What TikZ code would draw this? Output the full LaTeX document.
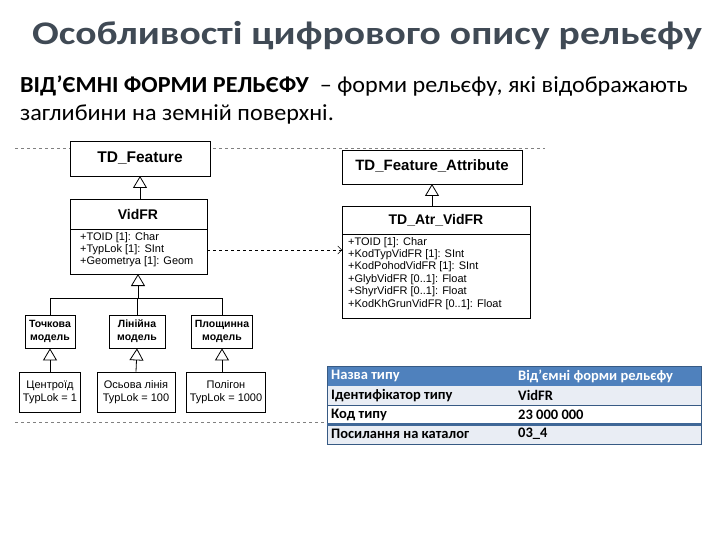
\documentclass[tikz,border=0pt]{standalone}
\usepackage{fontspec}
\setmainfont{Carlito}
\newfontfamily\arial{Liberation Sans}
\usetikzlibrary{arrows.meta}
\definecolor{titlec}{HTML}{404A55}
\definecolor{tblue}{HTML}{4F81BD}
\definecolor{tlight}{HTML}{E9EDF4}
\begin{document}
\begin{tikzpicture}[x=1pt,y=-1pt,
  cls/.style={draw,thick,fill=white},
  gen/.style={-{Triangle[open,length=12pt,width=14pt]},thick},
  attr/.style={font=\arial\fontsize{11}{12.4}\selectfont,align=left,anchor=north west,inner sep=0pt},
  small/.style={font=\arial\bfseries\fontsize{10.5}{13}\selectfont,align=center},
  trow/.style={anchor=west,inner sep=0pt,font=\bfseries\fontsize{14.5}{16}\selectfont}]
\useasboundingbox (0,0) rectangle (720,540);
\node[font=\bfseries\fontsize{33}{36}\selectfont,text=titlec] (title) at (367,36) {\scalebox{1.2}[1]{Особливості цифрового опису рельєфу}};
\node[anchor=west,inner sep=0pt,font=\fontsize{23}{26}\selectfont] (sub1) at (20,86) {\scalebox{1.05}[1]{\textbf{ВІД’ЄМНІ ФОРМИ РЕЛЬЄФУ} \ – форми рельєфу, які відображають}};
\node[anchor=west,inner sep=0pt,font=\fontsize{23}{26}\selectfont] (sub2) at (20,114) {\scalebox{1.05}[1]{заглибини на земній поверхні.}};
\draw[gray,dashed] (15,148) -- (545,148);
\draw[gray,dashed] (15,422) -- (330,422);
% TD_Feature
\draw[cls] (70,141) rectangle (210,176);
\node[font=\arial\bfseries\fontsize{15.5}{18}\selectfont] (tdf) at (140,158) {TD\_Feature};
\coordinate (tdfb) at (140,176);
% VidFR
\draw[cls] (70,199) rectangle (207,274);
\draw[thick] (70,229) -- (207,229);
\node[font=\arial\bfseries\fontsize{14}{16}\selectfont] (vid) at (138,214) {VidFR};
\node[attr] (vida) at (80,232) {+TOID [1]: Char\\+TypLok [1]: SInt\\+Geometrya [1]: Geom};
\coordinate (vidt) at (140,199);
\draw[gen] (vidt) -- (tdfb);
\coordinate (vidb) at (138,274);
\coordinate (hub) at (138,298);
\draw[gen] (hub) -- (vidb);
\draw[thick] (50,298) -- (222,298);
% middle boxes
\node[draw,thick,minimum width=50pt,minimum height=33pt,small] (m1) at (50,331.5) {Точкова\\модель};
\node[draw,thick,minimum width=56pt,minimum height=33pt,small] (m2) at (137,331.5) {Лінійна\\модель};
\node[draw,thick,minimum width=56pt,minimum height=33pt,small] (m3) at (222,331.5) {Площинна\\модель};
\draw[thick] (50,298) -- (m1.north);
\draw[thick] (137,298) -- (m2.north);
\draw[thick] (222,298) -- (m3.north);
% bottom boxes
\node[draw,thick,minimum width=60pt,minimum height=40pt,small,font=\arial\fontsize{11}{13}\selectfont] (b1) at (50,392) {Центроїд\\TypLok = 1};
\node[draw,thick,minimum width=78pt,minimum height=40pt,small,font=\arial\fontsize{11}{13}\selectfont] (b2) at (136,392) {Осьова лінія\\TypLok = 100};
\node[draw,thick,minimum width=77pt,minimum height=40pt,small,font=\arial\fontsize{11}{13}\selectfont] (b3) at (226,392) {Полігон\\TypLok = 1000};
\draw[gen] (b1.north) -- (m1.south);
\draw[gen] (b2.north) -- (m2.south);
\draw[gen] (b3.north -| m3.south) -- (m3.south);
% TD_Feature_Attribute
\draw[cls] (342,150) rectangle (522,184);
\node[font=\arial\bfseries\fontsize{15}{17}\selectfont] (tfa) at (432,166) {TD\_Feature\_Attribute};
\coordinate (tfab) at (432,184);
\draw[cls] (342,206) rectangle (530,318);
\draw[thick] (342,234) -- (530,234);
\node[font=\arial\bfseries\fontsize{14}{16}\selectfont] (atr) at (436,220) {TD\_Atr\_VidFR};
\node[attr] (atra) at (348,237) {+TOID [1]: Char\\+KodTypVidFR [1]: SInt\\+KodPohodVidFR [1]: SInt\\+GlybVidFR [0..1]: Float\\+ShyrVidFR [0..1]: Float\\+KodKhGrunVidFR [0..1]: Float};
\coordinate (atrt) at (432,206);
\draw[gen] (atrt) -- (tfab);
\coordinate (vr) at (207,250);
\coordinate (al) at (342,250);
\draw[dashed,-{Straight Barb[length=4pt]}] (vr) -- (al);
% table
\fill[tblue] (327,366) rectangle (701,386);
\fill[tlight] (327,386) rectangle (701,405);
\fill[white] (327,405) rectangle (701,424);
\fill[tlight] (327,424) rectangle (701,444);
\draw[tblue!70!black,thick] (327,366) rectangle (701,444);
\draw[tblue!70!black] (327,405) -- (701,405);
\draw[tblue!80!black,line width=3pt] (327,424) -- (701,424);
\node[trow,text=white] (r1a) at (331,376) {Назва типу};
\node[trow,text=white] (r1b) at (518,376) {Від’ємні форми рельєфу};
\node[trow] (r2a) at (331,395.5) {Ідентифікатор типу};
\node[trow] (r2b) at (518,395.5) {VidFR};
\node[trow] (r3a) at (331,414.5) {Код типу};
\node[trow] (r3b) at (518,414.5) {23 000 000};
\node[trow] (r4a) at (331,434) {Посилання на каталог};
\node[trow] (r4b) at (518,434) {03\_4};
\end{tikzpicture}
\end{document}
